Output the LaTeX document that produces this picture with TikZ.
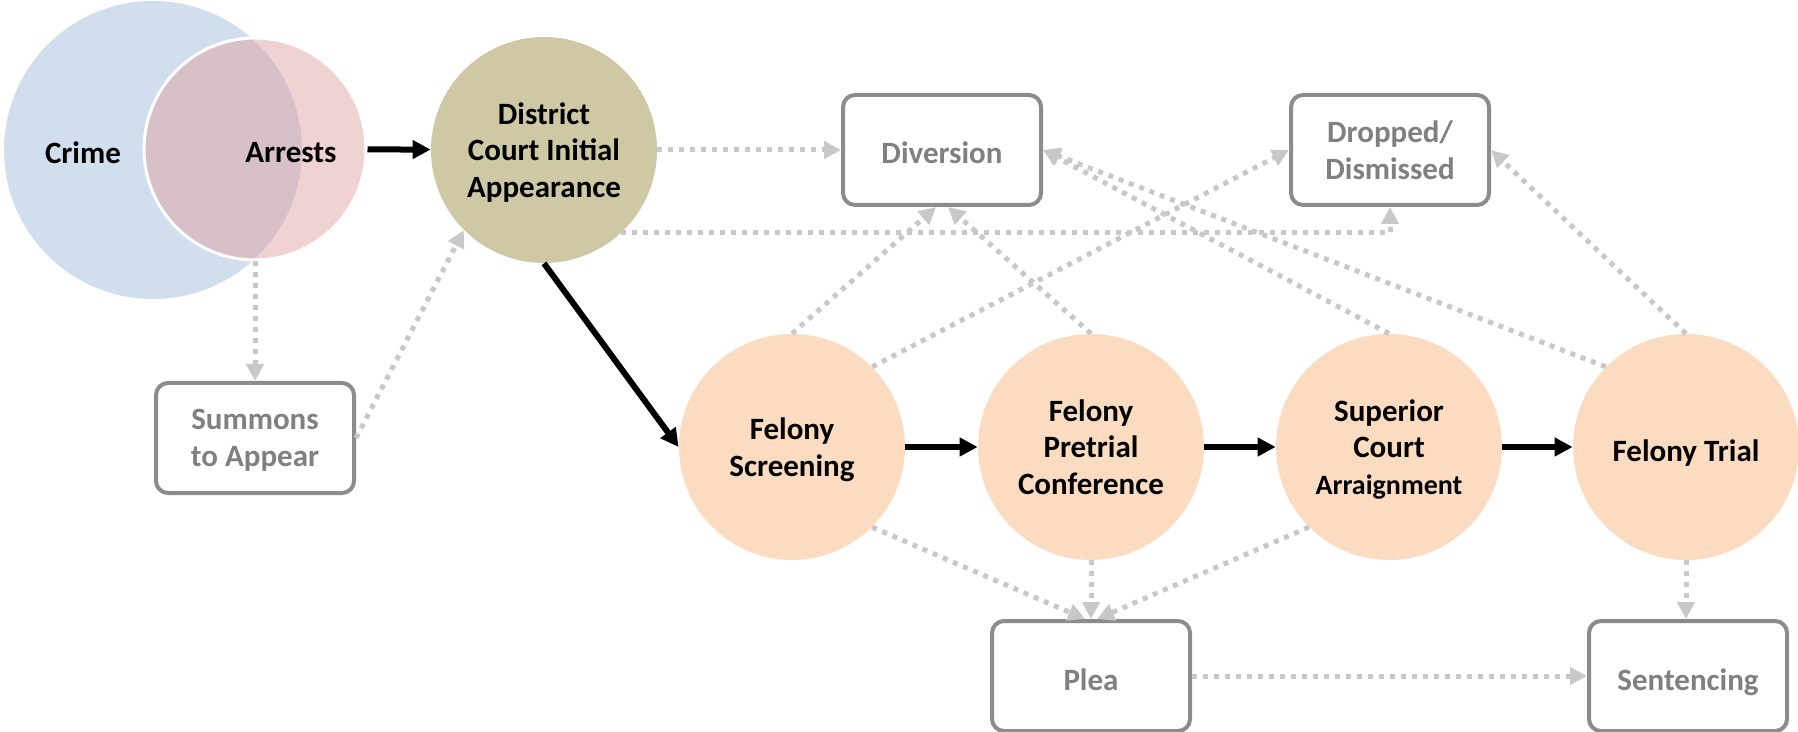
\documentclass[tikz,border=0pt]{standalone}
\usepackage{fontspec}
\setmainfont{Carlito}
\usetikzlibrary{arrows.meta}
\definecolor{crimeblue}{RGB}{208,222,238}
\definecolor{arrestpink}{RGB}{226,161,161}
\definecolor{courtolive}{RGB}{206,200,164}
\definecolor{felonypeach}{RGB}{252,220,192}
\definecolor{boxgray}{RGB}{140,140,140}
\definecolor{textgray}{RGB}{128,128,128}
\definecolor{flowgray}{RGB}{200,200,200}

\begin{document}
\begin{tikzpicture}[x=0.5pt, y=-0.5pt,
  font=\fontsize{15.5}{18.3}\selectfont\bfseries,
  lowtext/.style={execute at begin node={\rule{0pt}{14pt}}, text depth=-1pt},
  stage/.style={circle, fill=felonypeach, minimum size=113pt, inner sep=0pt, align=center, lowtext},
  outcome/.style={rectangle, rounded corners=6pt, draw=boxgray, line width=2pt, fill=white, text=textgray, minimum width=99pt, minimum height=55pt, align=center, lowtext},
  mainflow/.style={-{Triangle[length=9pt,width=9pt]}, line width=3pt},
  sideflow/.style={-{Triangle[length=8.5pt,width=8.5pt]}, flowgray, line width=2.5pt, dash pattern=on 2.5pt off 3pt}]
\useasboundingbox (0,0) rectangle (1798,732);
\node[circle, fill=crimeblue, minimum size=149pt, inner sep=0pt] (crime) at (153,150) {};
\node[circle, fill=arrestpink, fill opacity=0.48, draw=white, line width=1.5pt, minimum size=111pt, inner sep=0pt] (arrests) at (255,149) {};
\node (crimelabel) at (83,153) {Crime};
\node (arrestlabel) at (291,153) {Arrests};
\node[circle, fill=courtolive, minimum size=113pt, inner sep=0pt, align=center, lowtext] (district) at (544,150) {District\\Court Initial\\Appearance};
\node[stage] (screening) at (792,447) {Felony\\Screening};
\node[stage] (pretrial) at (1091,447) {Felony\\Pretrial\\Conference};
\node[stage] (superior) at (1389,447) {Superior\\Court\\{\fontsize{14}{18.3}\selectfont Arraignment}};
\node[stage] (trial) at (1686,447) {Felony Trial};
\node[outcome] (summons) at (255,438) {Summons\\to Appear};
\node[outcome] (diversion) at (942,150) {Diversion};
\node[outcome] (dropped) at (1390,150) {Dropped/\\Dismissed};
\node[outcome] (plea) at (1091,676) {Plea};
\node[outcome] (sentencing) at (1688,676) {Sentencing};
% main path
\draw[mainflow] (arrests) -- (district);
\draw[mainflow] (district.south) -- (screening.west);
\draw[mainflow] (screening) -- (pretrial);
\draw[mainflow] (pretrial) -- (superior);
\draw[mainflow] (superior) -- (trial);
% other outcomes
\draw[sideflow] (arrests.south) -- (summons.north);
\draw[sideflow] (summons.east) -- (district.-135);
\draw[sideflow] (district.east) -- (diversion.west);
\draw[sideflow] (district.-47.7) -| (dropped.south);
\draw[sideflow] (screening.north) -- ([xshift=-3pt]diversion.south);
\draw[sideflow] (pretrial.north) -- ([xshift=3pt]diversion.south);
\draw[sideflow] (screening.45) -- (dropped.west);
\draw[sideflow] (superior.north) -- (diversion.east);
\draw[sideflow] (trial.135) -- (diversion.east);
\draw[sideflow] (trial.north) -- (dropped.east);
\draw[sideflow] (screening.-45) -- ([xshift=-3pt]plea.north);
\draw[sideflow] (pretrial.south) -- (plea.north);
\draw[sideflow] (superior.-135) -- ([xshift=3pt]plea.north);
\draw[sideflow] (trial.south) -- (trial.south |- sentencing.north);
\draw[sideflow] (plea.east) -- (sentencing.west);
\end{tikzpicture}
\end{document}
